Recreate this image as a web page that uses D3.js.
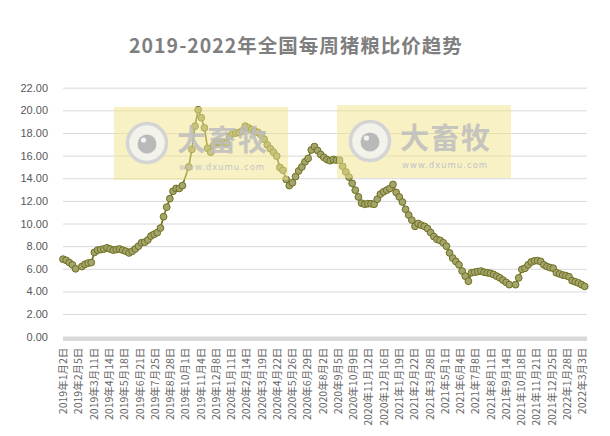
<!DOCTYPE html>
<html>
<head>
<meta charset="utf-8">
<script src="https://cdn.jsdelivr.net/npm/d3@7"></script>
<style>
  html, body { margin: 0; padding: 0; background: #fff; }
  svg { display: block; }
</style>
</head>
<body>
<script>
// weekly pig/grain price ratio, one value per Wednesday starting 2019-01-02
// null = no release that week (holidays)
const firstWeek = "2019-01-02";

const values2019 = [6.85, 6.75, 6.55, 6.35, 6.0, null, 6.2, 6.4, 6.5, 6.55,
  7.45, 7.65, 7.7, 7.75, 7.85, 7.75, 7.65, 7.7, 7.75, 7.65,
  7.55, 7.4, 7.55, 7.75, 8.0, 8.3, 8.35, 8.55, 8.9, 9.05,
  9.2, 9.6, 10.6, 11.45, 12.2, 12.85, 13.1, 13.1, 13.35, null,
  15.0, 16.55, 18.6, 20.05, 19.35, 18.45, 16.65, 16.3, 16.95, 17.2,
  17.15, 17.15];
const values2020 = [17.1, 17.7, 17.95, 18.0, 18.05, 18.15, 18.6, 18.45,
  18.3, 18.15, 18.05, 17.85, 17.45, 16.95, 16.6, 16.3, 15.95, 14.95,
  14.7, 13.9, 13.35, 13.6, 14.15, 14.65, 15.0, 15.45, 15.75, 16.5,
  16.8, 16.45, 16.1, 15.85, 15.65, 15.55, 15.65, 15.6, 15.6, 15.05,
  14.55, 14.1, 13.55, 12.95, 12.35, 11.8, 11.7, 11.75, 11.75, 11.7,
  12.15, 12.6, 12.8, 12.95, 13.1];
const values2021 = [13.45, 12.75, 12.35, 11.9, 11.25, 10.75, 10.3, 9.75,
  10.0, 9.85, 9.75, 9.55, 9.2, 8.85, 8.6, 8.5, 8.3, 8.0, 7.4, 6.95,
  6.65, 6.35, 5.8, 5.35, 4.9, 5.65, 5.7, 5.75, 5.8, 5.7, 5.65, 5.6,
  5.5, 5.35, 5.2, 5.0, 4.8, 4.6, null, 4.6, 5.2, 5.95, 6.05, 6.35,
  6.6, 6.7, 6.72, 6.65, 6.35, 6.2, 6.1, 6.05];
const values2022 = [5.65, 5.55, 5.45, 5.4, 5.3, 4.95, 4.85, 4.75, 4.6, 4.45];

const xTickDates = [
  "2019-01-02", "2019-02-05", "2019-03-11", "2019-04-14", "2019-05-18",
  "2019-06-21", "2019-07-25", "2019-08-28", "2019-10-01", "2019-11-04",
  "2019-12-08", "2020-01-11", "2020-02-14", "2020-03-19", "2020-04-22",
  "2020-05-26", "2020-06-29", "2020-08-02", "2020-09-05", "2020-10-09",
  "2020-11-12", "2020-12-16", "2021-01-19", "2021-02-22", "2021-03-28",
  "2021-05-01", "2021-06-04", "2021-07-08", "2021-08-11", "2021-09-14",
  "2021-10-18", "2021-11-21", "2021-12-25", "2022-01-28", "2022-03-03"
];
const yTicks = [0, 2, 4, 6, 8, 10, 12, 14, 16, 18, 20, 22];

const titleText = "2019-2022年全国每周猪粮比价趋势";

// ---------- layout ----------
const width = 610;
const height = 436;
const plot = { left: 63, right: 582, top: 87.7, bottom: 336.7 };

const parseDay = d3.utcParse("%Y-%m-%d");
const start = parseDay(firstWeek);
const allValues = values2019.concat(values2020, values2021, values2022);
const data = allValues
  .map((v, i) => ({ date: d3.utcDay.offset(start, 7 * i), value: v }))
  .filter(d => d.value !== null);

const svg = d3.select("body")
  .append("svg")
  .attr("width", width)
  .attr("height", height);

const xScale = d3.scaleUtc()
  .domain([parseDay(xTickDates[0]), parseDay(xTickDates[xTickDates.length - 1])])
  .range([plot.left, plot.right]);

const yScale = d3.scaleLinear()
  .domain([0, 22])
  .range([plot.bottom, plot.top]);

// title
svg.append("text")
  .attr("x", 296)
  .attr("y", 53)
  .attr("text-anchor", "middle")
  .attr("font-family", "'Noto Sans CJK SC', 'Noto Sans', sans-serif")
  .attr("font-weight", "bold")
  .attr("font-size", "19.5px")
  .attr("letter-spacing", "1px")
  .attr("fill", "#7f7f7f")
  .text(titleText);

// y axis with gridlines
const yAxis = d3.axisLeft(yScale)
  .tickValues(yTicks)
  .tickSize(-(587 - plot.left))
  .tickPadding(15)
  .tickFormat(d3.format(".2f"));

const gy = svg.append("g")
  .attr("transform", `translate(${plot.left},0)`)
  .call(yAxis);
gy.select(".domain").remove();
gy.selectAll(".tick line")
  .attr("stroke", "#d9d9d9")
  .attr("stroke-width", 1)
  .filter(d => d === 0).remove();
gy.selectAll(".tick text")
  .attr("font-family", "'Liberation Sans', 'Noto Sans', sans-serif")
  .attr("font-size", "11px")
  .attr("fill", "#595959");

// thick baseline at 0
svg.append("line")
  .attr("x1", plot.left)
  .attr("x2", 587)
  .attr("y1", yScale(0) + 2)
  .attr("y2", yScale(0) + 2)
  .attr("stroke", "#d9d9d9")
  .attr("stroke-width", 4.5);

// x axis labels (rotated)
const fmt = d => `${d.getUTCFullYear()}年${d.getUTCMonth() + 1}月${d.getUTCDate()}日`;
const xAxis = d3.axisBottom(xScale)
  .tickValues(xTickDates.map(parseDay))
  .tickSize(0)
  .tickFormat(fmt);

const gx = svg.append("g")
  .attr("transform", `translate(0,${plot.bottom})`)
  .call(xAxis);
gx.select(".domain").remove();
gx.selectAll(".tick text")
  .attr("font-family", "'Noto Sans CJK SC', sans-serif")
  .attr("font-size", "10.5px")
  .attr("fill", "#666666")
  .attr("text-anchor", "end")
  .attr("dy", "0.35em")
  .attr("transform", "translate(0,11) rotate(-90)")
  .attr("x", 0)
  .attr("y", 0);

// line + markers
const line = d3.line()
  .x(d => xScale(d.date))
  .y(d => yScale(d.value));

svg.append("path")
  .datum(data)
  .attr("d", line)
  .attr("fill", "none")
  .attr("stroke", "#6f7112")
  .attr("stroke-width", 1.6);

svg.append("g")
  .selectAll("circle")
  .data(data)
  .enter()
  .append("circle")
  .attr("cx", d => xScale(d.date))
  .attr("cy", d => yScale(d.value))
  .attr("r", 3.4)
  .attr("fill", "#a3a56c")
  .attr("stroke", "#6f7020")
  .attr("stroke-width", 1);

// watermarks drawn over the plot
function watermark(x, y) {
  const g = svg.append("g").attr("transform", `translate(${x},${y})`);
  g.append("rect")
    .attr("width", 174)
    .attr("height", 73)
    .attr("fill", "#efe48a")
    .attr("opacity", 0.5);
  g.append("circle")
    .attr("cx", 33).attr("cy", 36).attr("r", 19.5)
    .attr("fill", "#f2f2f2").attr("fill-opacity", 0.85)
    .attr("stroke", "#d4d4d4").attr("stroke-width", 3.5);
  g.append("circle")
    .attr("cx", 33).attr("cy", 37).attr("r", 9.5)
    .attr("fill", "#b9b9b9");
  g.append("circle")
    .attr("cx", 29.5).attr("cy", 33).attr("r", 2.6)
    .attr("fill", "#f4f4f4");
  g.append("text")
    .attr("x", 63).attr("y", 44)
    .attr("font-family", "'Noto Sans CJK SC', sans-serif")
    .attr("font-weight", "bold")
    .attr("font-size", "29px")
    .attr("letter-spacing", "1.5px")
    .attr("fill", "#bdbdbd")
    .attr("opacity", 0.85)
    .text("大畜牧");
  g.append("text")
    .attr("x", 65).attr("y", 63)
    .attr("font-family", "'DejaVu Sans', sans-serif")
    .attr("font-size", "8.5px")
    .attr("letter-spacing", "1px")
    .attr("fill", "#c4c4c4")
    .text("www.dxumu.com");
}
watermark(114, 107);
watermark(337, 105);
</script>
</body>
</html>
